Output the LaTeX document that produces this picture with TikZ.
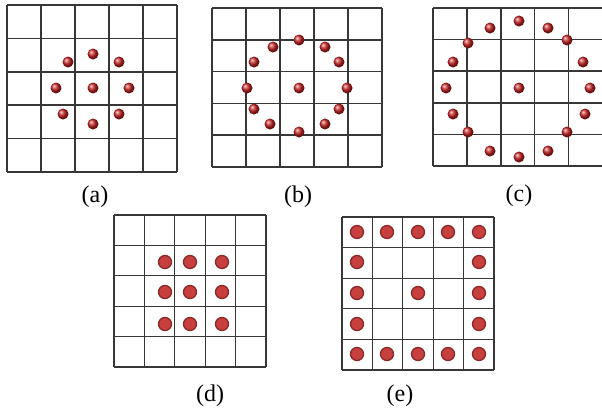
\documentclass[tikz,border=0pt]{standalone}
\usepackage{fontspec}
\setmainfont{Liberation Serif}
\begin{document}
\begin{tikzpicture}[x=0.75pt,y=0.75pt]
\definecolor{gridc}{RGB}{55,55,55}
\definecolor{ballred}{RGB}{200,35,35}
\definecolor{dotred}{RGB}{200,64,62}
\definecolor{dotedge}{RGB}{140,40,40}
\tikzset{
  gridline/.style={draw=gridc, line width=1.1pt},
  thingrid/.style={draw=gridc, line width=0.8pt},
  ball/.style={ball color=ballred},
  flatdot/.style={fill=dotred, draw=dotedge, line width=1pt},
  lbl/.style={font=\fontsize{18pt}{20pt}\selectfont, inner sep=0pt}
}
\newcommand\mygrid[5]{%
  \foreach \i in {0,...,5} {
    \draw[#5] ({#1+\i*(#2-#1)/5},-#3) -- ({#1+\i*(#2-#1)/5},-#4);
    \draw[#5] (#1,{-(#3+\i*(#4-#3)/5)}) -- (#2,{-(#3+\i*(#4-#3)/5)});
  }}
\useasboundingbox[fill=white] (0,0) rectangle (602,-408);
% (a)
\mygrid{7}{177}{5}{172}{gridline}
\foreach \x/\y in {93/54,68/62,119/62,56/88,93/88,129/88,63/114,119/114,93/124}
  \shade[ball] (\x,-\y) circle (5.5);
% (b)
\mygrid{212}{382}{8}{167}{gridline}
\foreach \x/\y in {299/40,273/47,325/47,254/62,339/62,247/88,299/88,347/88,254/109,339/109,270/124,325/124,299/132}
  \shade[ball] (\x,-\y) circle (5.5);
% (c)
\mygrid{433}{602.5}{8}{166}{gridline}
\foreach \x/\y in {519/21,490/28,548/28,468/43,567/40,453/62,583/62,446/88,519/88,590/88,453/114,585/114,468/132,567/132,490/151,548/151,519/157}
  \shade[ball] (\x,-\y) circle (5.5);
% (d)
\mygrid{114}{266}{215}{367}{thingrid}
\foreach \x in {165,190,222}
  \foreach \y in {262,292,324}
    \filldraw[flatdot] (\x,-\y) circle (6.5);
% (e)
\mygrid{342}{494}{217}{370}{thingrid}
\foreach \x in {357,387,418,448,479}
  \foreach \y in {232,262,293,324,354} {
    \ifnum\x=357 \filldraw[flatdot] (\x,-\y) circle (6.5);
    \else\ifnum\x=479 \filldraw[flatdot] (\x,-\y) circle (6.5);
    \else\ifnum\y=232 \filldraw[flatdot] (\x,-\y) circle (6.5);
    \else\ifnum\y=354 \filldraw[flatdot] (\x,-\y) circle (6.5);
    \fi\fi\fi\fi
  }
\filldraw[flatdot] (418,-293) circle (6.5);
% labels
\node[lbl] (la) at (95,-197) {(a)};
\node[lbl] (lb) at (298,-197) {(b)};
\node[lbl] (lc) at (519,-196) {(c)};
\node[lbl] (ld) at (210,-396) {(d)};
\node[lbl] (le) at (400,-396) {(e)};
\end{tikzpicture}
\end{document}
